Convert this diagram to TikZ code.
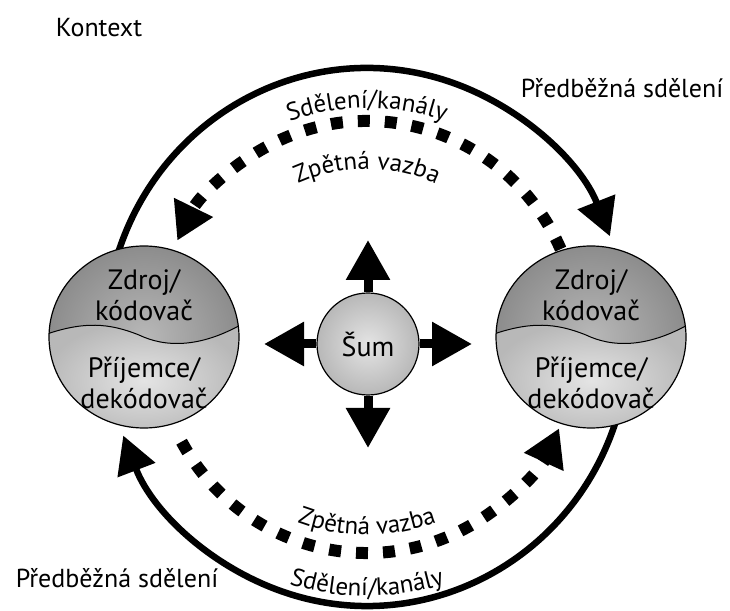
\documentclass[tikz,border=0pt]{standalone}
\usepackage{fontspec}
\setmainfont{PT Sans}
\usetikzlibrary{arrows.meta, decorations.text, shapes.geometric}
\definecolor{darkshade}{HTML}{8A8A8A}
\definecolor{midshade}{HTML}{B8B8B8}
\definecolor{lightshade}{HTML}{E4E4E4}
\newcommand\arcfont{\fontsize{25}{29}\selectfont}

\begin{document}
\begin{tikzpicture}[x=1pt, y=1pt,
    flow/.style={line width=6.5pt, -{Triangle[length=37pt, width=39pt]}},
    feedback/.style={line width=12pt, dash pattern=on 12pt off 15pt,
      -{Triangle[length=37pt, width=41pt]}},
    spread/.style={line width=9pt, -{Triangle[length=40pt, width=42pt]}},
    ctxlabel/.style={font=\fontsize{26}{30}\selectfont},
    spherelabel/.style={font=\fontsize{28}{31}\selectfont, align=center},
    arclabel/.style={decorate, decoration={text along path,
      text align=center, text={|\arcfont|#1}}}]
  \useasboundingbox (0,0) rectangle (730,610);
  \coordinate (ctr) at (367,273);

  \draw[flow] ([shift={(162:262 and 269)}]ctr)
    arc[start angle=162, end angle=22, x radius=262, y radius=269];
  \draw[flow] ([shift={(-16:262 and 269)}]ctr)
    arc[start angle=-16, end angle=-158.5, x radius=262, y radius=269];
  \draw[feedback] ([shift={(24:212 and 216)}]ctr)
    arc[start angle=24, end angle=153.5, x radius=212, y radius=216];
  \draw[feedback] ([shift={(209:212 and 216)}]ctr)
    arc[start angle=209, end angle=335, x radius=212, y radius=216];

  \path[arclabel=Sdělení/kanály] ([shift={(120:229)}]ctr)
    arc[start angle=120, end angle=60, radius=229];
  \path[arclabel=Zpětná vazba] ([shift={(130:168)}]ctr)
    arc[start angle=130, end angle=50, radius=168];
  \path[arclabel=Zpětná vazba] ([shift={(225:198)}]ctr)
    arc[start angle=225, end angle=315, radius=198];
  \path[arclabel=Sdělení/kanály] ([shift={(235:259)}]ctr)
    arc[start angle=235, end angle=305, radius=259];

  \foreach \nm/\x in {src/144, dst/591} {
    \begin{scope}
      \clip (\x,273) ellipse [x radius=95, y radius=91];
      \shade[inner color=midshade, outer color=darkshade]
        (\x,273) ellipse [x radius=100, y radius=96];
      \shade[inner color=lightshade, outer color=midshade]
        (\x-100,275) .. controls (\x-60,289) and (\x-35,287) .. (\x-5,275)
        .. controls (\x+20,263) and (\x+55,261) .. (\x+100,287)
        -- (\x+100,170) -- (\x-100,170) -- cycle;
      \draw[line width=1pt]
        (\x-100,275) .. controls (\x-60,289) and (\x-35,287) .. (\x-5,275)
        .. controls (\x+20,263) and (\x+55,261) .. (\x+100,287);
    \end{scope}
    \node[draw, ellipse, line width=1.2pt, minimum width=190pt,
          minimum height=182pt] (\nm) at (\x,273) {};
    \node[spherelabel] at (\x,315) {Zdroj/\\kódovač};
    \node[spherelabel] at (\x,227) {Příjemce/\\dekódovač};
  }

  \node[circle, draw, line width=1.2pt, minimum size=102pt,
        inner color=lightshade, outer color=midshade,
        font=\fontsize{28}{31}\selectfont] (sum) at (368,266) {Šum};
  \foreach \dir in {90, 0, 180, 270}
    \draw[spread] (sum) -- ++(\dir:104);

  \node[ctxlabel] (kontext) at (99,582) {Kontext};
  \node[ctxlabel] (pretop) at (622,522) {Předběžná sdělení};
  \node[ctxlabel] (prebottom) at (117,32) {Předběžná sdělení};
\end{tikzpicture}
\end{document}
